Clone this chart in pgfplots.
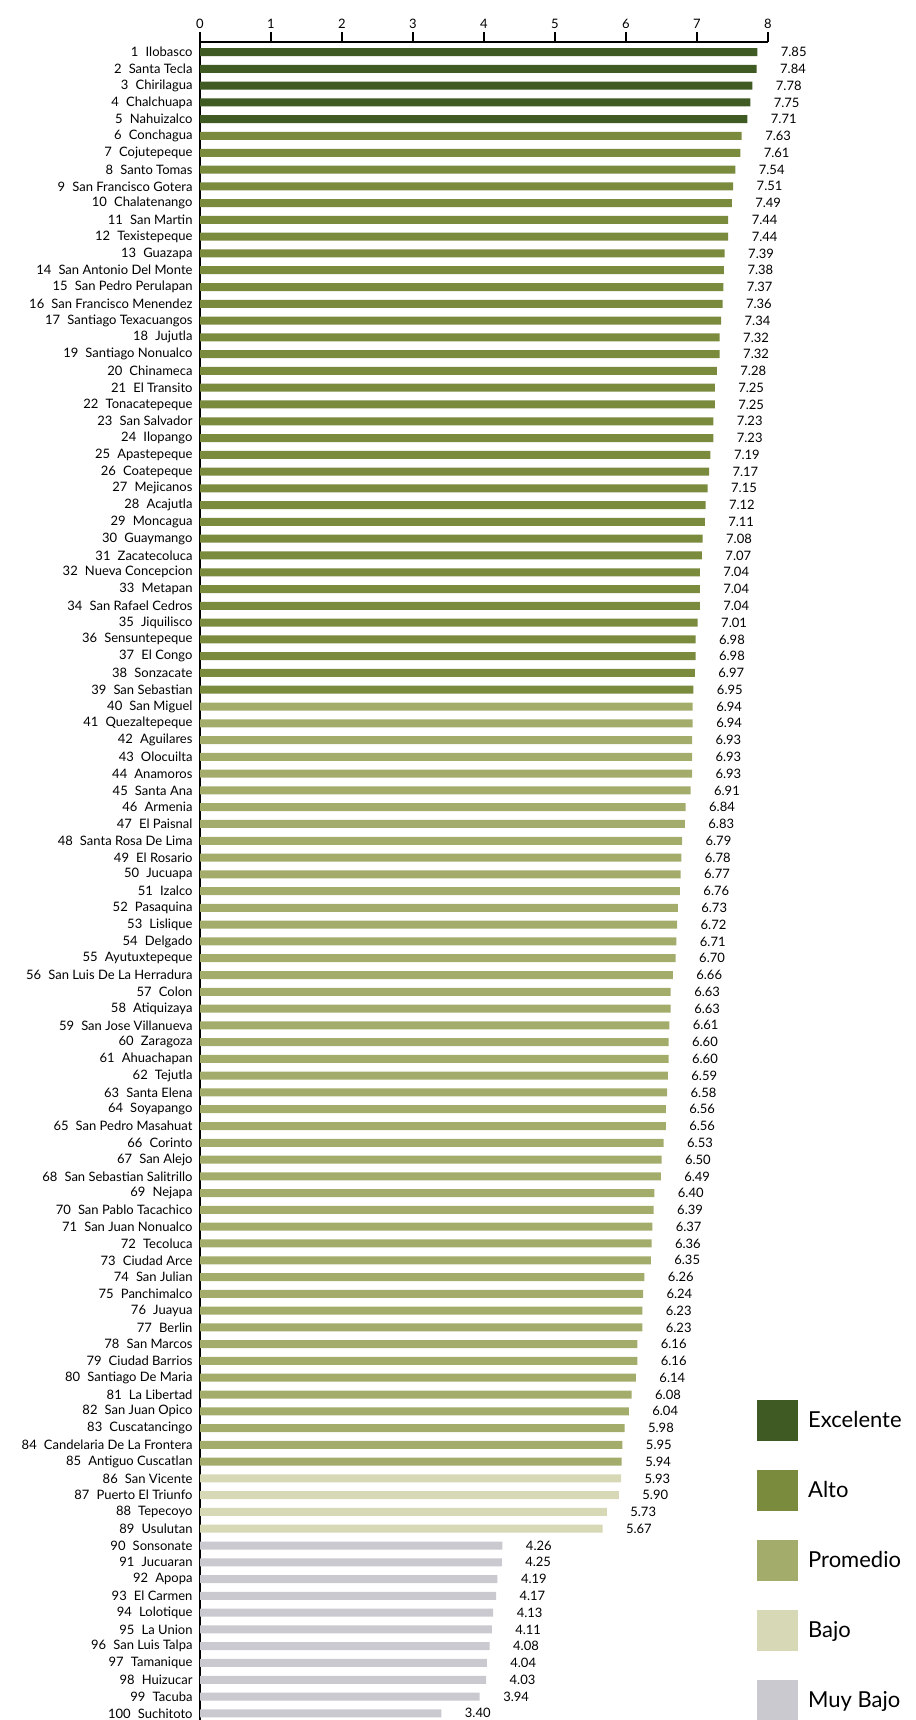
\documentclass[border=0pt]{standalone}
\usepackage{fontspec}
\setmainfont{Lato}
\usepackage{pgfplots}
\usepackage{pgfplotstable}
\pgfplotsset{compat=1.18}

\definecolor{excel}{HTML}{3F5A22}
\definecolor{alto}{HTML}{7B8B3E}
\definecolor{prom}{HTML}{A4AC6B}
\definecolor{bajo}{HTML}{D6D8B6}
\definecolor{muybajo}{HTML}{C9C9CF}

% rank, index value, municipality
\pgfplotstableread[col sep=comma]{
idx,val,name
1,7.85,Ilobasco
2,7.84,Santa Tecla
3,7.78,Chirilagua
4,7.75,Chalchuapa
5,7.71,Nahuizalco
6,7.63,Conchagua
7,7.61,Cojutepeque
8,7.54,Santo Tomas
9,7.51,San Francisco Gotera
10,7.49,Chalatenango
11,7.44,San Martin
12,7.44,Texistepeque
13,7.39,Guazapa
14,7.38,San Antonio Del Monte
15,7.37,San Pedro Perulapan
16,7.36,San Francisco Menendez
17,7.34,Santiago Texacuangos
18,7.32,Jujutla
19,7.32,Santiago Nonualco
20,7.28,Chinameca
21,7.25,El Transito
22,7.25,Tonacatepeque
23,7.23,San Salvador
24,7.23,Ilopango
25,7.19,Apastepeque
26,7.17,Coatepeque
27,7.15,Mejicanos
28,7.12,Acajutla
29,7.11,Moncagua
30,7.08,Guaymango
31,7.07,Zacatecoluca
32,7.04,Nueva Concepcion
33,7.04,Metapan
34,7.04,San Rafael Cedros
35,7.01,Jiquilisco
36,6.98,Sensuntepeque
37,6.98,El Congo
38,6.97,Sonzacate
39,6.95,San Sebastian
40,6.94,San Miguel
41,6.94,Quezaltepeque
42,6.93,Aguilares
43,6.93,Olocuilta
44,6.93,Anamoros
45,6.91,Santa Ana
46,6.84,Armenia
47,6.83,El Paisnal
48,6.79,Santa Rosa De Lima
49,6.78,El Rosario
50,6.77,Jucuapa
51,6.76,Izalco
52,6.73,Pasaquina
53,6.72,Lislique
54,6.71,Delgado
55,6.70,Ayutuxtepeque
56,6.66,San Luis De La Herradura
57,6.63,Colon
58,6.63,Atiquizaya
59,6.61,San Jose Villanueva
60,6.60,Zaragoza
61,6.60,Ahuachapan
62,6.59,Tejutla
63,6.58,Santa Elena
64,6.56,Soyapango
65,6.56,San Pedro Masahuat
66,6.53,Corinto
67,6.50,San Alejo
68,6.49,San Sebastian Salitrillo
69,6.40,Nejapa
70,6.39,San Pablo Tacachico
71,6.37,San Juan Nonualco
72,6.36,Tecoluca
73,6.35,Ciudad Arce
74,6.26,San Julian
75,6.24,Panchimalco
76,6.23,Juayua
77,6.23,Berlin
78,6.16,San Marcos
79,6.16,Ciudad Barrios
80,6.14,Santiago De Maria
81,6.08,La Libertad
82,6.04,San Juan Opico
83,5.98,Cuscatancingo
84,5.95,Candelaria De La Frontera
85,5.94,Antiguo Cuscatlan
86,5.93,San Vicente
87,5.90,Puerto El Triunfo
88,5.73,Tepecoyo
89,5.67,Usulutan
90,4.26,Sonsonate
91,4.25,Jucuaran
92,4.19,Apopa
93,4.17,El Carmen
94,4.13,Lolotique
95,4.11,La Union
96,4.08,San Luis Talpa
97,4.04,Tamanique
98,4.03,Huizucar
99,3.94,Tacuba
100,3.40,Suchitoto
}\data

\begin{document}
\begin{tikzpicture}
\useasboundingbox (0,0) rectangle (916bp,-1720bp);
\begin{axis}[
    at={(200bp,-42bp)}, anchor=north west,
    x=71bp, y=16.78bp,
    xmin=0, xmax=8, ymin=0.4, ymax=100.45,
    y dir=reverse,
    xbar, bar width=8bp, bar shift=0pt,
    axis x line=top, axis y line=left,
    axis line style={-, line width=1.4bp},
    xtick={0,...,8}, tick align=outside, major tick length=10bp,
    x tick style={line width=1.4bp, black},
    xticklabel style={font=\fontsize{13bp}{15bp}\selectfont},
    ytick={1,...,100}, y tick style={draw=none},
    yticklabel={\pgfmathprintnumber{\tick}\hspace{0.55em}\pgfplotstablegetelem{\ticknum}{name}\of\data\pgfplotsretval},
    yticklabel style={font=\fontsize{13bp}{15bp}\selectfont, xshift=6bp},
    /pgf/number format/assume math mode=true,
    point meta=x,
    nodes near coords,
    nodes near coords style={anchor=west, xshift=20bp, font=\fontsize{13bp}{15bp}\selectfont,
        /pgf/number format/.cd, fixed, fixed zerofill, precision=2},
    legend image code/.code={\fill[#1,draw=none] (0bp,-20.5bp) rectangle (41bp,20.5bp);},
    legend cell align=left,
    legend style={at={(0.9806,0.1915)}, anchor=north west, draw=none, fill=none,
        inner sep=0pt, row sep=29bp, column sep=10bp,
        font=\fontsize{22bp}{24bp}\selectfont, nodes={inner sep=0pt, anchor=west}},
]
\addplot[fill=excel, draw=none, restrict y to domain=1:5] table[x=val, y=idx] {\data};
\addplot[fill=alto, draw=none, restrict y to domain=6:39] table[x=val, y=idx] {\data};
\addplot[fill=prom, draw=none, restrict y to domain=40:85] table[x=val, y=idx] {\data};
\addplot[fill=bajo, draw=none, restrict y to domain=86:89] table[x=val, y=idx] {\data};
\addplot[fill=muybajo, draw=none, restrict y to domain=90:100] table[x=val, y=idx] {\data};
\legend{Excelente,Alto,Promedio,Bajo,Muy Bajo}
\end{axis}
\end{tikzpicture}
\end{document}
